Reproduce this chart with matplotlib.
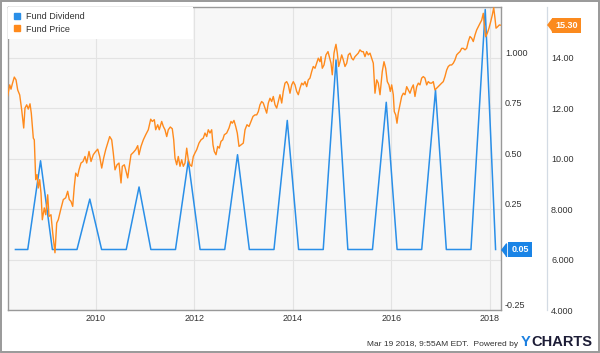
import matplotlib
matplotlib.use("Agg")
import matplotlib.pyplot as plt
from matplotlib.lines import Line2D
from matplotlib.patches import Rectangle
import matplotlib.transforms as mtransforms

plt.rcParams['font.family'] = ['Liberation Sans', 'DejaVu Sans']

# ---------------- data ----------------
price_years = [
    2008.213, 2008.254, 2008.280, 2008.307, 2008.347, 2008.382, 2008.416, 2008.457, 2008.497, 2008.538,
    2008.564, 2008.599, 2008.631, 2008.666, 2008.692, 2008.733, 2008.753, 2008.782, 2008.808, 2008.834,
    2008.863, 2008.889, 2008.916, 2008.956, 2008.985, 2009.025, 2009.052, 2009.092, 2009.127, 2009.173,
    2009.208, 2009.240, 2009.289, 2009.342, 2009.391, 2009.431, 2009.464, 2009.498, 2009.533, 2009.565,
    2009.594, 2009.634, 2009.661, 2009.701, 2009.742, 2009.783, 2009.817, 2009.864, 2009.905, 2009.951,
    2010.000, 2010.041, 2010.081, 2010.122, 2010.162, 2010.203, 2010.244, 2010.284, 2010.325, 2010.357,
    2010.392, 2010.433, 2010.473, 2010.514, 2010.540, 2010.581, 2010.609, 2010.650, 2010.682, 2010.717,
    2010.764, 2010.812, 2010.853, 2010.879, 2010.920, 2010.967, 2011.015, 2011.068, 2011.117, 2011.149,
    2011.190, 2011.218, 2011.259, 2011.291, 2011.340, 2011.373, 2011.407, 2011.442, 2011.474, 2011.515,
    2011.555, 2011.584, 2011.610, 2011.645, 2011.677, 2011.712, 2011.746, 2011.779, 2011.813, 2011.848,
    2011.880, 2011.915, 2011.949, 2011.982, 2012.016, 2012.051, 2012.097, 2012.138, 2012.185, 2012.219,
    2012.254, 2012.286, 2012.321, 2012.355, 2012.382, 2012.408, 2012.443, 2012.477, 2012.510, 2012.544,
    2012.579, 2012.611, 2012.660, 2012.707, 2012.747, 2012.774, 2012.808, 2012.843, 2012.875, 2012.910,
    2012.950, 2012.997, 2013.032, 2013.072, 2013.113, 2013.153, 2013.194, 2013.234, 2013.269, 2013.302,
    2013.336, 2013.370, 2013.403, 2013.438, 2013.472, 2013.505, 2013.539, 2013.574, 2013.606, 2013.641,
    2013.675, 2013.708, 2013.742, 2013.777, 2013.809, 2013.844, 2013.878, 2013.911, 2013.945, 2013.980,
    2014.012, 2014.047, 2014.081, 2014.114, 2014.148, 2014.183, 2014.215, 2014.250, 2014.284, 2014.317,
    2014.351, 2014.386, 2014.418, 2014.453, 2014.487, 2014.520, 2014.554, 2014.575, 2014.601, 2014.636,
    2014.676, 2014.717, 2014.743, 2014.778, 2014.804, 2014.839, 2014.859, 2014.879, 2014.906, 2014.934,
    2014.961, 2014.995, 2015.028, 2015.062, 2015.097, 2015.129, 2015.164, 2015.198, 2015.230, 2015.265,
    2015.299, 2015.332, 2015.366, 2015.401, 2015.433, 2015.468, 2015.502, 2015.535, 2015.570, 2015.604,
    2015.637, 2015.657, 2015.671, 2015.706, 2015.738, 2015.773, 2015.793, 2015.819, 2015.854, 2015.888,
    2015.921, 2015.955, 2015.982, 2016.010, 2016.043, 2016.063, 2016.092, 2016.118, 2016.144, 2016.179,
    2016.213, 2016.246, 2016.280, 2016.315, 2016.347, 2016.382, 2016.416, 2016.449, 2016.483, 2016.518,
    2016.551, 2016.585, 2016.619, 2016.652, 2016.686, 2016.721, 2016.753, 2016.788, 2016.822, 2016.855,
    2016.889, 2016.924, 2016.956, 2016.991, 2017.025, 2017.058, 2017.092, 2017.127, 2017.159, 2017.194,
    2017.228, 2017.261, 2017.295, 2017.330, 2017.363, 2017.397, 2017.432, 2017.464, 2017.499, 2017.533,
    2017.566, 2017.600, 2017.635, 2017.667, 2017.702, 2017.736, 2017.769, 2017.803, 2017.838, 2017.870,
    2017.891, 2017.919, 2017.952, 2017.986, 2018.021, 2018.053, 2018.082, 2018.108, 2018.129, 2018.163,
    2018.196, 2018.215,
]
price_values = [
    12.50, 12.93, 12.76, 12.97, 13.24, 13.13, 12.73, 12.53, 11.94, 11.22,
    12.01, 12.14, 11.97, 12.18, 11.81, 10.82, 10.75, 9.17, 9.37, 8.84,
    9.17, 8.64, 7.58, 8.05, 7.78, 8.57, 7.71, 7.78, 7.06, 6.27,
    7.45, 7.58, 7.98, 8.38, 8.45, 8.71, 8.38, 8.31, 8.11, 8.90,
    9.43, 9.30, 9.56, 9.83, 9.89, 10.09, 9.83, 10.29, 9.89, 10.16,
    10.29, 10.38, 10.09, 9.63, 10.03, 10.36, 10.62, 10.88, 10.75, 10.23,
    9.56, 9.76, 9.83, 9.04, 9.70, 9.76, 9.56, 9.24, 9.70, 10.16,
    10.25, 10.36, 10.52, 10.16, 10.49, 10.75, 10.95, 11.15, 11.57, 11.48,
    11.55, 11.15, 11.35, 11.15, 11.48, 11.28, 11.15, 10.88, 11.15, 11.26,
    11.19, 10.75, 10.03, 9.76, 10.09, 9.70, 9.96, 9.70, 9.83, 10.42,
    9.96, 9.76, 9.70, 10.09, 10.23, 10.36, 10.62, 10.75, 10.82, 11.02,
    10.88, 11.15, 11.02, 11.15, 10.55, 10.29, 10.16, 10.49, 10.42, 10.69,
    10.75, 10.95, 11.02, 11.22, 11.48, 11.41, 11.52, 11.28, 11.02, 10.49,
    10.55, 10.62, 11.15, 11.35, 11.28, 11.48, 11.68, 11.74, 11.74, 11.87,
    12.14, 12.27, 12.21, 12.01, 11.81, 12.21, 12.40, 12.27, 12.47, 12.14,
    12.01, 12.27, 12.54, 12.21, 12.67, 13.00, 13.06, 12.93, 12.60, 12.93,
    13.06, 12.93, 12.67, 12.54, 12.80, 13.00, 12.93, 13.06, 12.86, 13.13,
    13.20, 13.46, 13.66, 13.59, 13.79, 13.99, 13.85, 14.05, 13.59, 13.72,
    14.12, 14.25, 14.05, 13.79, 13.33, 14.19, 14.38, 14.54, 14.19, 13.66,
    13.85, 14.12, 13.92, 13.66, 13.79, 14.12, 14.19, 13.99, 13.92, 14.05,
    14.12, 14.19, 14.32, 14.25, 14.25, 14.05, 14.25, 14.12, 14.19, 13.99,
    13.79, 13.13, 12.60, 13.13, 13.00, 12.54, 12.93, 13.46, 13.85, 13.59,
    13.06, 12.93, 12.67, 12.93, 12.54, 11.87, 11.74, 11.41, 11.81, 12.14,
    12.47, 12.60, 12.54, 12.86, 12.73, 12.60, 12.80, 12.93, 12.47, 12.86,
    13.00, 12.93, 13.20, 13.26, 13.20, 12.93, 13.06, 13.00, 13.00, 13.06,
    12.73, 12.80, 12.86, 12.93, 13.00, 13.06, 13.26, 13.52, 13.66, 13.72,
    13.72, 13.79, 13.92, 14.12, 14.19, 14.25, 14.38, 14.38, 14.32, 14.38,
    14.65, 14.85, 14.78, 14.65, 14.91, 15.11, 15.24, 15.37, 15.50, 15.77,
    15.31, 14.84, 14.98, 15.18, 15.44, 15.70, 15.99, 15.57, 15.18, 15.24,
    15.31, 15.30,
]

div_years = [
    2008.37, 2008.62, 2008.88,
    2009.12, 2009.37, 2009.62, 2009.88,
    2010.12, 2010.37, 2010.62, 2010.88,
    2011.12, 2011.37, 2011.62, 2011.88,
    2012.12, 2012.37, 2012.62, 2012.88,
    2013.12, 2013.37, 2013.62, 2013.89,
    2014.12, 2014.37, 2014.62, 2014.88,
    2015.12, 2015.37, 2015.62, 2015.90,
    2016.12, 2016.37, 2016.62, 2016.90,
    2017.12, 2017.37, 2017.62, 2017.91,
    2018.12,
]
div_values = [
    0.05, 0.05, 0.49,
    0.05, 0.05, 0.05, 0.30,
    0.05, 0.05, 0.05, 0.36,
    0.05, 0.05, 0.05, 0.49,
    0.05, 0.05, 0.05, 0.52,
    0.05, 0.05, 0.05, 0.69,
    0.05, 0.05, 0.05, 0.99,
    0.05, 0.05, 0.05, 0.78,
    0.05, 0.05, 0.05, 0.84,
    0.05, 0.05, 0.05, 1.24,
    0.05,
]

year_ticks = [2010, 2012, 2014, 2016, 2018]
year_labels = ["2010", "2012", "2014", "2016", "2018"]
div_ticks = [-0.25, 0.0, 0.25, 0.50, 0.75, 1.0]
div_tick_labels = ["-0.25", "", "0.25", "0.50", "0.75", "1.000"]
price_ticks = [4, 6, 8, 10, 12, 14]
price_tick_labels = ["4.000", "6.000", "8.000", "10.00", "12.00", "14.00"]
series_names = ["Fund Dividend", "Fund Price"]
last_div_label = "0.05"
last_price_label = "15.30"

# ---------------- style ----------------
BLUE = '#2a8fe8'
ORANGE = '#ff8a1c'
BADGE_BLUE = '#1a84e6'
BADGE_ORANGE = '#fb8a1e'
TXT = '#333333'

fig = plt.figure(figsize=(6.0, 3.53), dpi=100)
ax = fig.add_axes([7.7 / 600, 43 / 353, 493.3 / 600, 303 / 353])
ax.set_facecolor('#f7f7f7')
ax.plot(div_years, div_values, color=BLUE, lw=1.1, zorder=3)
ax.set_xlim(2008.213, 2018.23)
ax.set_ylim(-0.25, 1.2525)

ax2 = ax.twinx()
ax2.plot(price_years, price_values, color=ORANGE, lw=1.0, zorder=3)
ax2.set_ylim(4, 16.02)

# axis ticks/labels
ax.yaxis.tick_right()
ax.set_yticks(div_ticks, labels=div_tick_labels)
ax.set_xticks(year_ticks, labels=year_labels)
ax.tick_params(axis='y', length=0, pad=2.9, labelsize=6.5, labelcolor=TXT)
ax.tick_params(axis='x', length=0, pad=3.0, labelsize=6.5, labelcolor=TXT)
for lbl in ax.get_yticklabels():
    lbl.set_va('bottom')

ax2.set_yticks(price_ticks, labels=price_tick_labels)
ax2.tick_params(axis='y', length=0, pad=2.9, labelsize=6.5, labelcolor=TXT)
for lbl in ax2.get_yticklabels():
    lbl.set_va('bottom')

ax.grid(True, color='#e3e3e3', lw=0.8)
ax.set_axisbelow(True)

for s in ax.spines.values():
    s.set_color('#999999')
    s.set_linewidth(1.0)
for name in ['left', 'top', 'bottom']:
    ax2.spines[name].set_visible(False)
ax2.spines['right'].set_position(('outward', 33.1))
ax2.spines['right'].set_color('#d3dbe4')
ax2.spines['right'].set_linewidth(0.9)

# legend
handles = [Line2D([], [], ls='none', marker='s', ms=4.5, color=BLUE),
           Line2D([], [], ls='none', marker='s', ms=4.5, color=ORANGE)]
leg = ax2.legend(handles, series_names, loc='upper left', bbox_to_anchor=(0, 1, 0.375, 0),
                 mode='expand', frameon=True, facecolor='white', edgecolor='none',
                 framealpha=1, fancybox=False, borderaxespad=0, borderpad=0.6,
                 fontsize=6.5, handlelength=0.8, handletextpad=0.6, labelspacing=0.35)
for t in leg.get_texts():
    t.set_color(TXT)
leg.set_zorder(10)

# value badges
tr_div = mtransforms.blended_transform_factory(ax.transAxes, ax.transData)
tr_price = mtransforms.blended_transform_factory(ax2.transAxes, ax2.transData)
tip = [(-0.38, 0), (0, 0.5), (0, -0.5)]

ax.plot([1.0101], [div_values[-1]], marker=tip, ms=9.4, color=BADGE_BLUE,
        transform=tr_div, clip_on=False, zorder=20)
ax.text(1.0385, div_values[-1], last_div_label, transform=tr_div, ha='center', va='center',
        color='white', fontsize=6.5, fontweight='bold', clip_on=False, zorder=21,
        bbox=dict(boxstyle='square,pad=0.33', fc=BADGE_BLUE, ec='none'))

ax2.plot([1.1028], [price_values[-1]], marker=tip, ms=9.4, color=BADGE_ORANGE,
         transform=tr_price, clip_on=False, zorder=20)
ax2.text(1.1325, price_values[-1], last_price_label, transform=tr_price, ha='center', va='center',
         color='white', fontsize=6.5, fontweight='bold', clip_on=False, zorder=21,
         bbox=dict(boxstyle='square,pad=0.33', fc=BADGE_ORANGE, ec='none'))

# footer
fig.text(518 / 600, 1 - 344 / 353, "Mar 19 2018, 9:55AM EDT.  Powered by", ha='right', va='center',
         fontsize=6, color=TXT)
fig.text(521 / 600, 1 - 342.5 / 353, "Y", ha='left', va='center', fontsize=10.5,
         fontweight='bold', color='#1a7fe0')
fig.text(531 / 600, 1 - 342.5 / 353, "CHARTS", ha='left', va='center', fontsize=10.5,
         fontweight='bold', color='#1c1c36')

# outer frame
fig.add_artist(Rectangle((1 / 600, 1.3 / 353), 597.5 / 600, 350.7 / 353, transform=fig.transFigure,
                         fill=False, ec='#999999', lw=1.4))

fig.savefig('out.png', dpi=100)
